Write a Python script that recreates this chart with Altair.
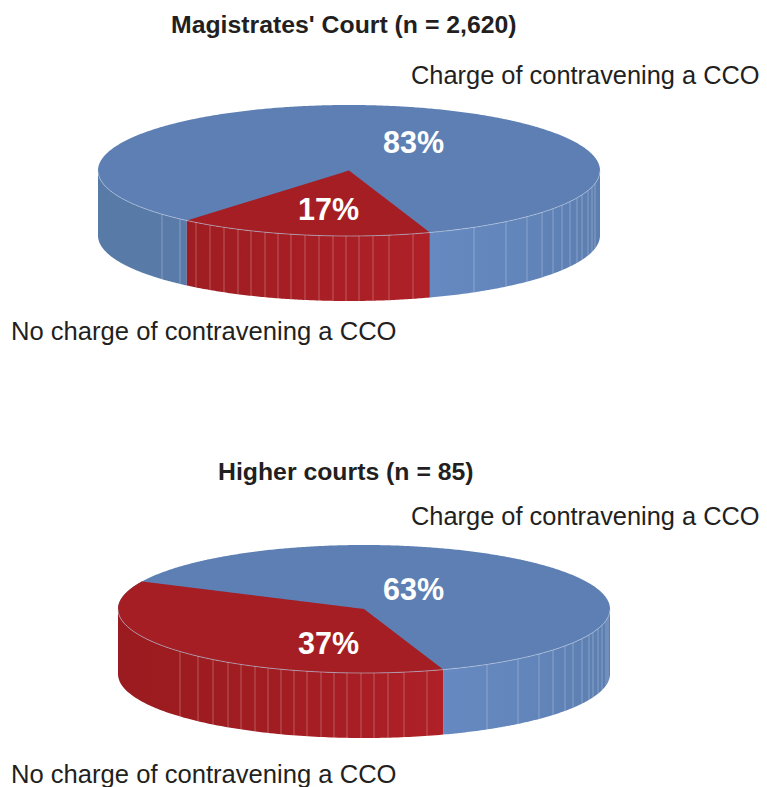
import numpy as np
import pandas as pd
import altair as alt

# Values
pie_titles = ["Magistrates' Court (n = 2,620)", "Higher courts (n = 85)"]
share_labels = [["83%", "17%"], ["63%", "37%"]]
red_shares = [16.4, 37.3]          # drawn size of the "No charge" slice, percent
start_angle = 71.2
charge_label = "Charge of contravening a CCO"
no_charge_label = "No charge of contravening a CCO"

seams_1 = [162, 180, 196, 210, 224, 238, 251, 265, 278, 291, 305, 319, 333, 346, 359, 373, 389, 413,
           474, 506, 527, 542, 553, 562, 570, 577, 582, 588, 592, 595]
seams_2 = [180, 198, 213, 228, 241, 255, 268, 281, 294, 307, 321, 334, 347, 361, 374, 388, 404, 427,
           487, 518, 539, 553, 565, 573, 582, 589, 593, 598, 602, 606, 608]

# Geometry of the two discs (page pixels)
OFF = 8
P1 = dict(cx=349, cy=170.5, rx=251, ry=65.5, d=65)
P2 = dict(cx=364, cy=609, rx=246, ry=64, d=65)

BLUE_TOP = "#5d7fb3"
RED_TOP = "#a51e23"
W, H = 751, 779
X = alt.Scale(domain=[0, W], nice=False, zero=False)
Y = alt.Scale(domain=[H, 0], nice=False, zero=False)


def ex(p, t):
    return p["cx"] + p["rx"] * np.cos(np.radians(t)) - OFF


def ey(p, t):
    return p["cy"] + p["ry"] * np.sin(np.radians(t)) - OFF


def area(df, color):
    return alt.Chart(df).mark_area(color=color, strokeWidth=0).encode(
        x=alt.X("x:Q", scale=X, axis=None),
        y=alt.Y("y:Q", scale=Y, axis=None),
        y2="y2:Q",
    )


def grad(*stops):
    return alt.Gradient(
        gradient="linear", x1=0, x2=1, y1=0, y2=0,
        stops=[alt.GradientStop(color=c, offset=o) for o, c in stops],
    )


def wall(p, a, b, color):
    t = np.linspace(a, b, 120)
    y = ey(p, t)
    return area(pd.DataFrame({"x": ex(p, t), "y": y, "y2": y + p["d"]}), color)


def full_top(p):
    t = np.linspace(0, 180, 361)
    return area(pd.DataFrame({"x": ex(p, t), "y": ey(p, t), "y2": ey(p, -t)}), BLUE_TOP)


def sector_top(p, a, b):
    t = np.linspace(a, b, 240)
    vx = np.r_[p["cx"] - OFF, ex(p, t)]
    vy = np.r_[p["cy"] - OFF, ey(p, t)]
    xs = np.unique(np.round(np.r_[vx, np.linspace(vx.min(), vx.max(), 300)], 3))
    rows = []
    n = len(vx)
    for x in xs:
        hits = []
        for i in range(n):
            x0, y0, x1, y1 = vx[i], vy[i], vx[(i + 1) % n], vy[(i + 1) % n]
            if min(x0, x1) - 1e-6 <= x <= max(x0, x1) + 1e-6:
                if abs(x1 - x0) < 1e-9:
                    hits += [y0, y1]
                else:
                    hits.append(y0 + (y1 - y0) * (x - x0) / (x1 - x0))
        if hits:
            rows.append((x, min(hits), max(hits)))
    return area(pd.DataFrame(rows, columns=["x", "y", "y2"]), RED_TOP)


def seams(p, xs):
    px = np.array(xs, float)
    t = np.arccos((px - p["cx"]) / p["rx"])
    y = p["cy"] - OFF + p["ry"] * np.sin(t)
    df = pd.DataFrame({"x": px - OFF, "y": y, "y2": y + p["d"]})
    return alt.Chart(df).mark_rule(color="#ffffff", opacity=0.27, strokeWidth=1).encode(
        x=alt.X("x:Q", scale=X, axis=None),
        y=alt.Y("y:Q", scale=Y, axis=None),
        y2="y2:Q",
    )


def rim(p):
    t = np.linspace(0, 180, 240)
    df = pd.DataFrame({"x": ex(p, t), "y": ey(p, t)})
    return alt.Chart(df).mark_line(color="#c4d2e6", opacity=0.55, strokeWidth=1).encode(
        x=alt.X("x:Q", scale=X, axis=None),
        y=alt.Y("y:Q", scale=Y, axis=None),
        order="index:Q",
    ).transform_window(index="row_number()")


def text(rows, size, weight, color, align="left"):
    df = pd.DataFrame(rows, columns=["label", "x", "y"])
    df["x"] -= OFF
    df["y"] -= OFF
    return alt.Chart(df).mark_text(
        font="Liberation Sans", fontSize=size, fontWeight=weight, color=color,
        align=align, baseline="alphabetic",
    ).encode(
        x=alt.X("x:Q", scale=X, axis=None),
        y=alt.Y("y:Q", scale=Y, axis=None),
        text="label:N",
    )


end1 = start_angle + red_shares[0] * 3.6
end2 = start_angle + red_shares[1] * 3.6
right_wall = grad((0, "#6689c1"), (0.5, "#6285bb"), (1, "#5c7eb0"))

layers = [
    # pie 1
    wall(P1, 0, start_angle, right_wall),
    wall(P1, end1, 180, grad((0, "#577aa6"), (1, "#5a7ba9"))),
    wall(P1, start_angle, end1, grad((0, "#9f1d22"), (1, "#af2027"))),
    seams(P1, seams_1),
    full_top(P1),
    sector_top(P1, start_angle, end1),
    rim(P1),
    # pie 2
    wall(P2, 0, start_angle, right_wall),
    wall(P2, start_angle, 180, grad((0, "#9a1b1f"), (0.5, "#a21d22"), (1, "#af2027"))),
    seams(P2, seams_2),
    full_top(P2),
    sector_top(P2, start_angle, end2),
    rim(P2),
    # text
    text([(pie_titles[0], 171, 33), (pie_titles[1], 218, 480)], 24.8, "bold", "#231f20"),
    text([(charge_label, 411, 84), (charge_label, 411, 525)], 25.4, "normal", "#231f20"),
    text([(no_charge_label, 11, 340), (no_charge_label, 11, 783)], 25.6, "normal", "#231f20"),
    text([(share_labels[0][0], 383, 153), (share_labels[0][1], 298, 220),
          (share_labels[1][0], 383, 600), (share_labels[1][1], 298, 654)], 30.5, "bold", "#ffffff"),
]

chart = alt.layer(*layers).properties(
    width=W, height=H, padding=0,
    autosize=alt.AutoSizeParams(type="none"),
).configure_view(stroke=None)

chart.save("out.html", embed_options={"renderer": "svg", "actions": False})
